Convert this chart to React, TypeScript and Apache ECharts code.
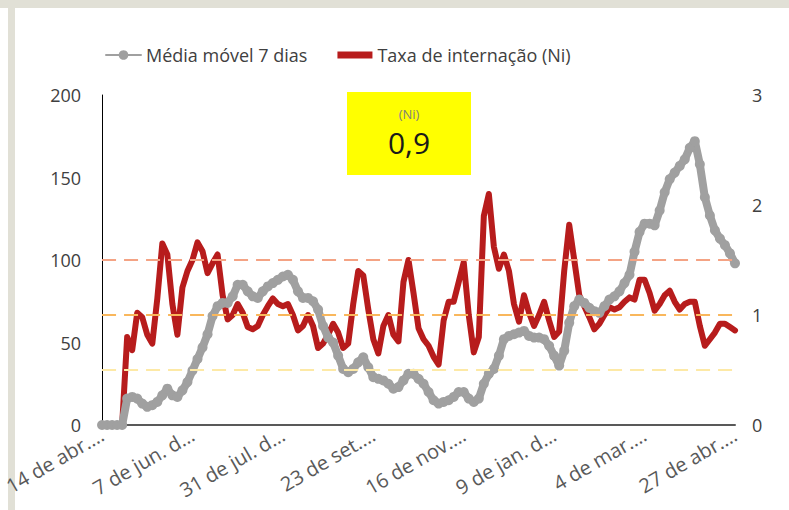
import React, { useEffect, useRef } from "react";
import * as echarts from "echarts";

// ---- data (one point every 3 days, 14 abr. 2020 -> 27 abr. 2021) ----
const startDateUTC = Date.UTC(2020, 3, 14);
const stepDays = 3;
const monthAbbr = ["jan.", "fev.", "mar.", "abr.", "mai.", "jun.", "jul.", "ago.", "set.", "out.", "nov.", "dez."];

const mediaMovel = [
  0, 0, 0, 0, 0,
  16, 17, 16, 13, 11,
  12, 14, 18, 22, 18,
  17, 21, 26, 33, 40,
  47, 55, 66, 72, 74,
  74, 78, 85, 85, 81,
  78, 77, 81, 84, 86,
  88, 90, 91, 88, 81,
  77, 77, 75, 70, 60,
  53, 50, 42, 34, 32,
  34, 38, 41, 35, 29,
  28, 27, 25, 22, 23,
  27, 31, 31, 28, 25,
  20, 15, 13, 14, 15,
  17, 20, 20, 16, 14,
  16, 25, 31, 34, 42,
  52, 54, 55, 56, 57,
  54, 53, 53, 52, 48,
  42, 36, 45, 62, 72,
  76, 74, 71, 69, 68,
  72, 76, 78, 81, 86,
  91, 105, 117, 122, 122,
  121, 130, 141, 149, 153,
  157, 161, 168, 172, 158,
  138, 127, 118, 113, 109,
  104, 98,
];

const taxaNi = [
  0, 0, 0, 0, 0,
  0.8, 0.68, 1.02, 0.98, 0.82,
  0.74, 1.15, 1.65, 1.55, 1.1,
  0.82, 1.25, 1.4, 1.5, 1.66,
  1.58, 1.38, 1.47, 1.55, 1.18,
  0.96, 1.0, 1.1, 1.02, 0.89,
  0.87, 0.9, 1.0, 1.08, 1.15,
  1.1, 1.08, 1.1, 1.0, 0.86,
  0.9, 1.0, 0.9, 0.7, 0.74,
  0.82, 0.92, 0.84, 0.7, 0.74,
  1.1, 1.4, 1.36, 1.05, 0.78,
  0.65, 0.9, 1.0, 0.82, 0.76,
  1.3, 1.5, 1.2, 0.88, 0.78,
  0.72, 0.62, 0.55, 0.95, 1.12,
  1.12, 1.3, 1.48, 1.0, 0.66,
  0.8, 1.9, 2.1, 1.62, 1.42,
  1.55, 1.4, 1.1, 0.94, 1.18,
  1.02, 0.9, 1.0, 1.12, 0.95,
  0.8, 0.85, 1.4, 1.82, 1.5,
  1.18, 1.08, 0.98, 0.87, 0.92,
  1.0, 1.07, 1.05, 1.07, 1.12,
  1.16, 1.14, 1.32, 1.32, 1.2,
  1.04, 1.1, 1.18, 1.22, 1.12,
  1.05, 1.1, 1.12, 1.12, 0.9,
  0.72, 0.78, 0.84, 0.92, 0.92,
  0.89, 0.86,
];

const categories = mediaMovel.map((_, i) => {
  const d = new Date(startDateUTC + i * stepDays * 86400000);
  return `${d.getUTCDate()} de ${monthAbbr[d.getUTCMonth()]} de ${d.getUTCFullYear()}`;
});

const referenceLines = [1.5, 1.0, 0.5];
const referenceColors = ["#f4a384", "#f9b75c", "#fde9a6"];
const currentNi = "0,9";
const seriesNames = ["Média móvel 7 dias", "Taxa de internação (Ni)"];

export default function App() {
  const ref = useRef<HTMLDivElement>(null);

  useEffect(() => {
    if (!ref.current) return;
    const chart = echarts.init(ref.current, undefined, { renderer: "svg" });
    const font = "'Open Sans', 'Noto Sans', sans-serif";
    const labelFont = `20px ${font}`;
    const shortLabel = (v: string) => {
      let t = v;
      try {
        t = (echarts as any).format.truncateText(v, 121, labelFont, "…");
      } catch (e) {
        t = v;
      }
      return String(t).replace(/\s+…$/, "…");
    };
    chart.setOption({
      animation: false,
      textStyle: { fontFamily: font },
      legend: {
        left: 100,
        top: 41,
        itemWidth: 35,
        itemHeight: 12,
        itemGap: 30,
        textStyle: { fontSize: 18, color: "#404040", fontFamily: font },
        data: [
          { name: seriesNames[0], lineStyle: { width: 2 } },
          {
            name: seriesNames[1],
            icon: "path://M0,0h36v0.01h-36zM0,2.5h36v7h-36zM0,11.99h36v0.01h-36z",
          },
        ],
      },
      grid: { left: 101, right: 54, top: 95, bottom: 85, containLabel: false },
      xAxis: {
        type: "category",
        data: categories,
        boundaryGap: false,
        axisLine: { show: true, lineStyle: { color: "#595959", width: 2 } },
        axisTick: { show: false },
        splitLine: { show: false },
        axisLabel: {
          interval: 17,
          rotate: 30,
          margin: 8,
          fontSize: 20,
          color: "#595959",
          fontFamily: font,
          formatter: shortLabel,
        },
      },
      yAxis: [
        {
          type: "value",
          min: 0,
          max: 200,
          interval: 50,
          axisLine: { show: true, lineStyle: { color: "#000", width: 1 } },
          axisTick: { show: false },
          splitLine: { show: false },
          axisLabel: { fontSize: 18, color: "#404040", margin: 21, fontFamily: font },
        },
        {
          type: "value",
          min: 0,
          max: 3,
          interval: 1,
          axisLine: { show: false },
          axisTick: { show: false },
          splitLine: { show: false },
          axisLabel: { fontSize: 18, color: "#404040", margin: 17, fontFamily: font },
        },
      ],
      series: [
        {
          name: seriesNames[1],
          type: "line",
          yAxisIndex: 1,
          data: taxaNi,
          symbol: "none",
          showSymbol: false,
          lineStyle: { color: "#b71c1c", width: 6, cap: "round", join: "round" },
          itemStyle: { color: "#b71c1c" },
          z: 3,
          markLine: {
            silent: true,
            symbol: ["none", "none"],
            label: { show: false },
            data: referenceLines.map((v, i) => ({
              yAxis: v,
              lineStyle: { color: referenceColors[i], width: 2, type: [14, 8] },
            })),
          },
        },
        {
          name: seriesNames[0],
          type: "line",
          yAxisIndex: 0,
          data: mediaMovel,
          symbol: "circle",
          symbolSize: 10,
          showSymbol: true,
          showAllSymbol: true,
          lineStyle: { color: "#a0a0a0", width: 8, cap: "round", join: "round" },
          itemStyle: { color: "#a0a0a0" },
          z: 4,
        },
      ],
      graphic: [
        {
          type: "rect",
          shape: { x: 347, y: 92, width: 124, height: 83 },
          style: { fill: "#ffff00" },
          z: 10,
        },
        {
          type: "text",
          x: 409,
          y: 114,
          style: {
            text: "(Ni)",
            font: `13px ${font}`,
            fill: "#7f7f7f",
            align: "center",
            verticalAlign: "middle",
            textAlign: "center",
            textVerticalAlign: "middle",
          },
          z: 11,
        },
        {
          type: "text",
          x: 409,
          y: 142,
          style: {
            text: currentNi,
            font: `30px ${font}`,
            fill: "#1a1a1a",
            align: "center",
            verticalAlign: "middle",
            textAlign: "center",
            textVerticalAlign: "middle",
          },
          z: 11,
        },
      ],
    });
    return () => chart.dispose();
  }, []);

  return (
    <div style={{ position: "absolute", left: 0, top: 0, width: 789, height: 510, background: "#fff", overflow: "hidden" }}>
      <div style={{ position: "absolute", left: 0, top: 0, width: 789, height: 8, background: "#e1e0d6" }} />
      <div style={{ position: "absolute", left: 8, top: 0, width: 7, height: 510, background: "#e1e0d6" }} />
      <div ref={ref} style={{ position: "absolute", left: 0, top: 0, width: 789, height: 510 }} />
    </div>
  );
}
